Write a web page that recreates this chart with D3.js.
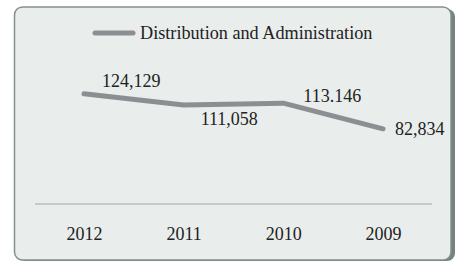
<!DOCTYPE html>
<html>
<head>
<meta charset="utf-8">
<script src="https://cdn.jsdelivr.net/npm/d3@7"></script>
<style>
  html, body { margin: 0; padding: 0; background: #ffffff; }
  svg { display: block; font-family: "Liberation Serif", "Times New Roman", serif; }
</style>
</head>
<body>
<svg id="chart" width="456" height="262"></svg>
<script>
// Distribution and Administration, by year
const years = ["2012", "2011", "2010", "2009"];
const values = [124129, 111058, 113146, 82834];
const valueLabels = ["124,129", "111,058", "113.146", "82,834"];
const seriesName = "Distribution and Administration";

const svg = d3.select("#chart");

// label nudges so they sit where the original put them
const labelOffsets = [[18, -7], [17, 20], [20, -1], [12, 6]];

// panel with shadow on the right
svg.append("rect")
  .attr("x", 18).attr("y", 9)
  .attr("width", 437).attr("height", 252)
  .attr("rx", 8)
  .attr("fill", "#75837f");

svg.append("rect")
  .attr("x", 14.5).attr("y", 7)
  .attr("width", 436.5).attr("height", 253)
  .attr("rx", 8)
  .attr("fill", "#e9edec")
  .attr("stroke", "#85908d")
  .attr("stroke-width", 1.5);

const x = d3.scalePoint().domain(years).range([84, 383]);
const y = d3.scaleLinear().domain([0, 125000]).range([199, 93.1]);

// baseline
svg.append("line")
  .attr("x1", 35).attr("x2", 432)
  .attr("y1", 204).attr("y2", 204)
  .attr("stroke", "#b9bdbc")
  .attr("stroke-width", 1.5);

// year labels
const xAxis = d3.axisBottom(x).tickSize(0).tickPadding(0);
const axisG = svg.append("g")
  .attr("transform", "translate(0,227)")
  .call(xAxis);
axisG.select(".domain").remove();
axisG.selectAll("text")
  .attr("font-family", "Liberation Serif, serif")
  .attr("font-size", 18)
  .attr("fill", "#222")
  .attr("dy", "0.71em");

const data = years.map((yr, i) => ({ year: yr, value: values[i], label: valueLabels[i] }));

const line = d3.line()
  .x(d => x(d.year))
  .y(d => y(d.value));

svg.append("path")
  .datum(data)
  .attr("d", line)
  .attr("fill", "none")
  .attr("stroke", "#8d8e91")
  .attr("stroke-width", 5)
  .attr("stroke-linecap", "round")
  .attr("stroke-linejoin", "round");

svg.selectAll(".val")
  .data(data)
  .enter()
  .append("text")
  .attr("class", "val")
  .attr("x", (d, i) => x(d.year) + labelOffsets[i][0])
  .attr("y", (d, i) => y(d.value) + labelOffsets[i][1])
  .attr("font-size", 18)
  .attr("fill", "#222")
  .text(d => d.label);

// legend
svg.append("line")
  .attr("x1", 95).attr("x2", 133)
  .attr("y1", 33).attr("y2", 33)
  .attr("stroke", "#8d8e91")
  .attr("stroke-width", 5)
  .attr("stroke-linecap", "round");

svg.append("text")
  .attr("x", 140)
  .attr("y", 39)
  .attr("font-size", 18.2)
  .attr("fill", "#222")
  .text(seriesName);
</script>
</body>
</html>
